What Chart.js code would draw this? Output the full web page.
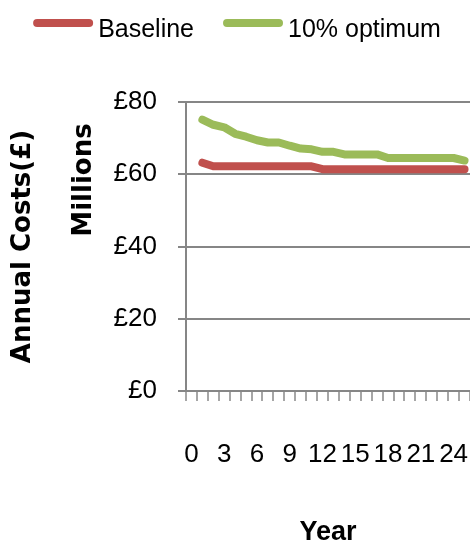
<!DOCTYPE html>
<html>
<head>
<meta charset="utf-8">
<script src="https://cdn.jsdelivr.net/npm/chart.js@4/dist/chart.umd.min.js"></script>
<style>
  html, body { margin: 0; padding: 0; background: #ffffff; }
  #wrap { width: 470px; height: 547px; }
</style>
</head>
<body>
<div id="wrap"><canvas id="chart" width="470" height="547"></canvas></div>
<script>
// Year categories (0 to 25); only every third one is labelled
const years = ['0','1','2','3','4','5','6','7','8','9','10','11','12','13','14','15','16','17','18','19','20','21','22','23','24','25'];

// Annual costs in £ millions, starting from year 1
const baseline = [null, 63.2, 62.2, 62.2, 62.2, 62.2, 62.2, 62.2, 62.2, 62.2, 62.2, 62.2,
                  61.4, 61.4, 61.4, 61.4, 61.4, 61.4, 61.4, 61.4, 61.4, 61.4, 61.4, 61.4, 61.4, 61.4];
const optimum10 = [null, 75.1, 73.7, 73.0, 71.2, 70.4, 69.4, 68.8, 68.8, 67.9, 67.1, 66.9,
                   66.2, 66.2, 65.5, 65.5, 65.5, 65.5, 64.5, 64.5, 64.5, 64.5, 64.5, 64.5, 64.5, 63.8];

const yTicks = [0, 20, 40, 60, 80];

const TEXT_FONT = '"Liberation Sans", Arial, sans-serif';
const WIDE_BOLD = '"DejaVu Sans", Verdana, sans-serif';
const AXIS_GREY = '#868686';

// Secondary caption next to the value axis
const unitsCaption = {
  id: 'unitsCaption',
  afterDraw(chart) {
    const ctx = chart.ctx;
    const y = chart.scales.y;
    ctx.save();
    ctx.translate(84, y.top + (y.bottom - y.top) * 0.27);
    ctx.rotate(-Math.PI / 2);
    ctx.font = 'bold 26px ' + WIDE_BOLD;
    ctx.fillStyle = '#000000';
    ctx.textAlign = 'center';
    ctx.textBaseline = 'middle';
    ctx.fillText('Millions', 0, 0);
    ctx.restore();
  }
};

// Legend row across the top: a thick rounded line swatch followed by the series name
const lineLegend = {
  id: 'lineLegend',
  afterDraw(chart) {
    const ctx = chart.ctx;
    const sets = chart.data.datasets;
    const swatch = 60, gap = 5, between = 29, lineY = 23, textY = 37;
    ctx.save();
    ctx.font = '25px ' + TEXT_FONT;
    const widths = sets.map(ds => ctx.measureText(ds.label).width);
    let total = 0;
    widths.forEach((w, i) => { total += swatch + gap + w + (i ? between : 0); });
    let x = (chart.width - total) / 2 + 2;
    sets.forEach((ds, i) => {
      ctx.strokeStyle = ds.borderColor;
      ctx.lineWidth = 8;
      ctx.lineCap = 'round';
      ctx.beginPath();
      ctx.moveTo(x + 4, lineY);
      ctx.lineTo(x + swatch - 4, lineY);
      ctx.stroke();
      ctx.fillStyle = '#000000';
      ctx.textAlign = 'left';
      ctx.textBaseline = 'alphabetic';
      ctx.fillText(ds.label, x + swatch + gap, textY);
      x += swatch + gap + widths[i] + between;
    });
    ctx.restore();
  }
};

new Chart(document.getElementById('chart'), {
  type: 'line',
  data: {
    labels: years,
    datasets: [
      {
        label: 'Baseline',
        data: baseline,
        borderColor: '#C0504D',
        backgroundColor: '#C0504D',
        borderWidth: 8,
        borderCapStyle: 'round',
        borderJoinStyle: 'round',
        pointRadius: 0,
        tension: 0
      },
      {
        label: '10% optimum',
        data: optimum10,
        borderColor: '#9BBB59',
        backgroundColor: '#9BBB59',
        borderWidth: 8,
        borderCapStyle: 'round',
        borderJoinStyle: 'round',
        pointRadius: 0,
        tension: 0
      }
    ]
  },
  options: {
    responsive: false,
    animation: false,
    devicePixelRatio: 1,
    layout: { padding: 0 },
    plugins: {
      tooltip: { enabled: false },
      legend: { display: false }
    },
    scales: {
      x: {
        type: 'category',
        offset: true,
        grid: {
          offset: true,
          drawOnChartArea: false,
          drawTicks: true,
          tickLength: 10,
          color: '#a6a6a6',
          lineWidth: 2
        },
        border: { display: true, color: AXIS_GREY, width: 2 },
        ticks: {
          autoSkip: false,
          maxRotation: 0,
          minRotation: 0,
          padding: 38,
          color: '#000000',
          font: { family: TEXT_FONT, size: 26 },
          callback: function (value, index) {
            return index % 3 === 0 ? this.getLabelForValue(value) : '';
          }
        },
        title: {
          display: true,
          text: 'Year',
          color: '#000000',
          font: { family: TEXT_FONT, size: 27, weight: 'bold' },
          padding: { top: 0, bottom: -2 }
        },
        afterFit(scale) {
          scale.height = 156;
          scale.paddingLeft = 0;
          scale.paddingRight = 0;
        }
      },
      y: {
        min: 0,
        max: 80,
        afterBuildTicks(scale) { scale.ticks = yTicks.map(v => ({ value: v })); },
        grid: {
          color: AXIS_GREY,
          lineWidth: 2,
          drawTicks: true,
          tickLength: 8
        },
        border: { display: true, color: AXIS_GREY, width: 2 },
        ticks: {
          padding: 21,
          color: '#000000',
          font: { family: TEXT_FONT, size: 26 },
          callback: v => '£' + v
        },
        title: {
          display: true,
          text: 'Annual Costs(£)',
          color: '#000000',
          font: { family: WIDE_BOLD, size: 26, weight: 'bold' },
          padding: { top: 8, bottom: 0 }
        },
        afterFit(scale) {
          scale.width = 186;
          scale.paddingTop = 102;
          scale.paddingBottom = 0;
        }
      }
    }
  },
  plugins: [unitsCaption, lineLegend]
});
</script>
</body>
</html>
